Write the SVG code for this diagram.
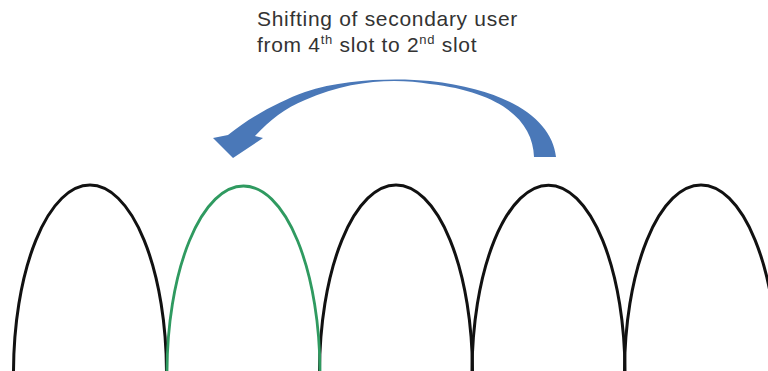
<svg xmlns="http://www.w3.org/2000/svg" width="768" height="371" viewBox="0 0 768 371">
<style>
.lbl{font-family:"Liberation Sans",Arial,sans-serif;font-size:21px;fill:#333;letter-spacing:0.7px}
.sup{font-size:13px}
.arch{fill:none;stroke:#111;stroke-width:3}
.green{stroke:#2f9a60;stroke-width:2.8}
</style>
<rect width="768" height="371" fill="#fff"/>
<g id="label">
<text class="lbl" x="257" y="26">Shifting of secondary user</text>
<text class="lbl" x="257" y="52">from 4<tspan class="sup" dy="-8">th</tspan><tspan dy="8"> slot to 2</tspan><tspan class="sup" dy="-8">nd</tspan><tspan dy="8"> slot</tspan></text>
</g>
<g id="slot1"><path class="arch" d="M 13.5 373 A 76.5 188 0 0 1 166.5 373"/></g>
<g id="slot3"><path class="arch" d="M 319.5 373 A 76.5 188 0 0 1 472.5 373"/></g>
<g id="slot4"><path class="arch" d="M 472 373 A 76.5 188 0 0 1 625 373"/></g>
<g id="slot5"><path class="arch" d="M 624.5 373 A 76.5 188 0 0 1 777.5 373"/></g>
<g id="slot2"><path class="arch green" d="M 167 373 A 76.5 187 0 0 1 320 373"/></g>
<g id="connectors">
<path d="M 556 157 C 552 120, 510 90, 430 81 C 400 78, 345 78, 305 92 C 280 101, 250 117, 228 135 L 213 138 L 233 158 L 263 138 L 255 136 C 270 120, 285 108, 305 100 C 350 80, 395 78, 430 84 C 500 92, 533 120, 534 157 Z" fill="#4a78b8"/>
</g>
</svg>
